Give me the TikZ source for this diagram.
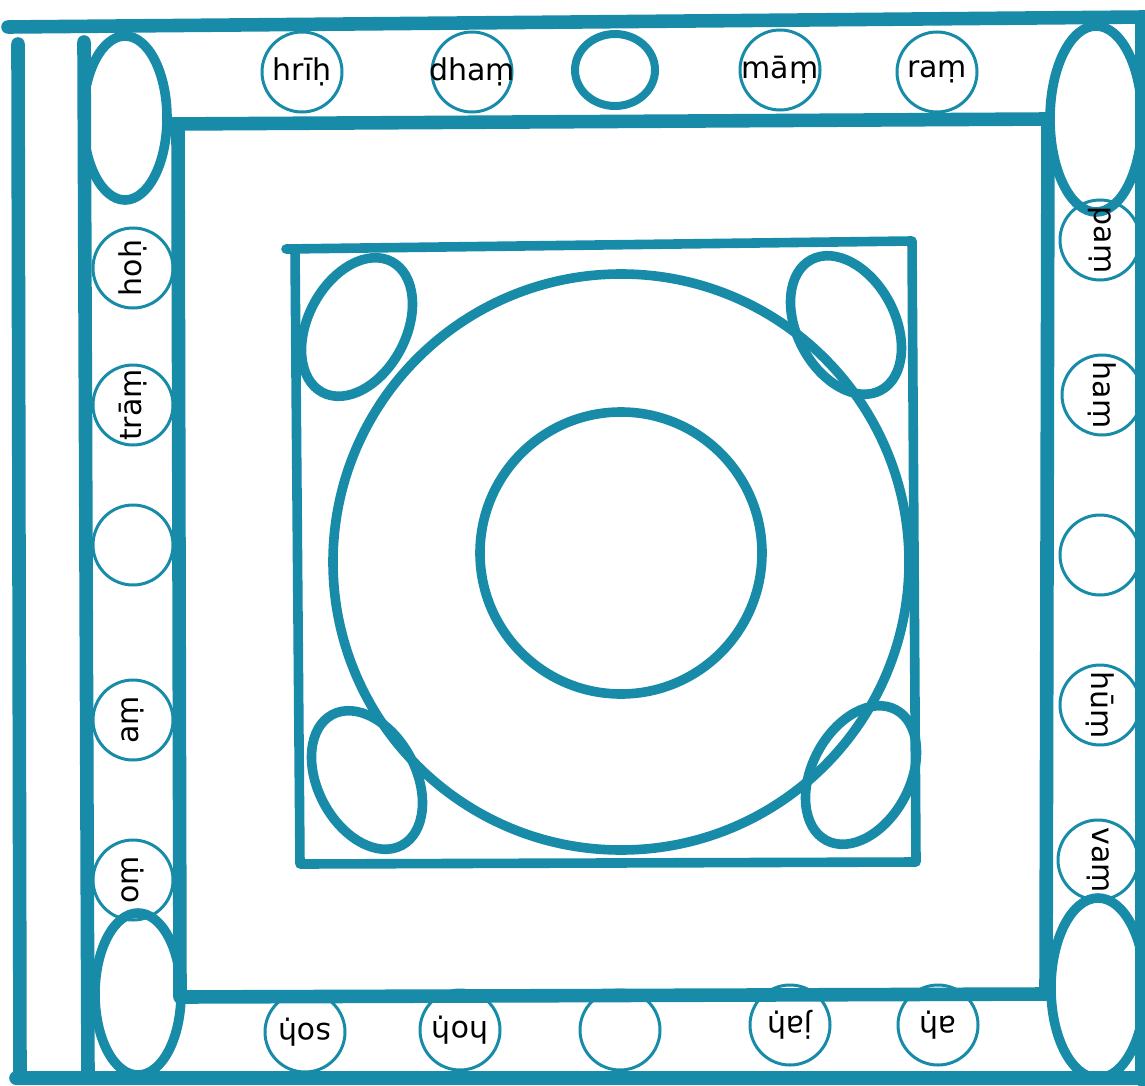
\documentclass[tikz,border=0pt]{standalone}
\usepackage{fontspec}
\setmainfont{DejaVu Sans}
\usetikzlibrary{shapes.geometric}
\definecolor{ink}{RGB}{24,139,168}
\begin{document}
\begin{tikzpicture}[x=0.5pt,y=-0.5pt,
  frame/.style={draw=ink,line width=6.8pt,line cap=round,line join=round},
  sq/.style={draw=ink,line width=4.8pt,line cap=round,line join=round},
  seed/.style={circle,draw=ink,line width=1.5pt,minimum size=40pt,inner sep=-7pt,
    font=\fontsize{15}{17}\selectfont},
  lefttxt/.style={seed,rotate=90},
  righttxt/.style={seed,rotate=-90},
  bottxt/.style={seed,rotate=180}]
\useasboundingbox (0,0) rectangle (1145,1086);
% outer frame
\draw[frame] (8,27) -- (1145,17);
\draw[frame] (18,44) -- (20,1076);
\draw[frame] (84,42) -- (88,1076);
\draw[frame] (16,1078) -- (1145,1078);
\draw[frame] (1142,22) -- (1142,1080);
% middle frame
\draw[frame] (170,124) -- (1048,119) -- (1046,994) -- (180,997) -- (178,124);
% corner ellipses
\draw[sq,line width=4.8pt] (125,118) ellipse [x radius=42, y radius=82];
\draw[sq,line width=4.8pt] (1096,119) ellipse [x radius=46, y radius=93];
\draw[sq,line width=4.8pt] (138,994) ellipse [x radius=43, y radius=81];
\draw[sq,line width=4.8pt] (1098,988) ellipse [x radius=47, y radius=90];
% inner square
\draw[sq] (286,249) -- (912,241) -- (916,862) -- (300,864) -- (295,249);
% circles
\draw[sq] (621,562) circle [radius=288];
\draw[sq] (621,553) circle [radius=141];
% small tilted ellipses
\draw[sq] [rotate around={62:(357,327)}] (357,327) ellipse [x radius=74, y radius=49];
\draw[sq] [rotate around={-62:(846,325)}] (846,325) ellipse [x radius=74, y radius=49];
\draw[sq] [rotate around={-62:(367,780)}] (367,780) ellipse [x radius=74, y radius=49];
\draw[sq] [rotate around={62:(861,775)}] (861,775) ellipse [x radius=74, y radius=49];
% top row
\node[seed] (t1) at (302,72) {hrīḥ};
\node[seed] (t2) at (472,72) {dhaṃ};
\draw[draw=ink,line width=4pt] (615,70) ellipse [x radius=40, y radius=36];
\node[seed] (t4) at (780,70) {māṃ};
\node[seed] (t5) at (937,72) {raṃ};
% right column
\node[righttxt] (r1) at (1100,240) {paṃ};
\node[righttxt] (r2) at (1102,395) {haṃ};
\node[seed] (r3) at (1100,555) {};
\node[righttxt] (r4) at (1100,705) {hūṃ};
\node[righttxt] (r5) at (1098,860) {vaṃ};
% left column
\node[lefttxt] (l1) at (133,268) {hoḥ};
\node[lefttxt] (l2) at (133,405) {trāṃ};
\node[seed] (l3) at (133,545) {};
\node[lefttxt] (l4) at (133,720) {aṃ};
\node[lefttxt] (l5) at (133,880) {oṃ};
% bottom row
\node[bottxt] (b1) at (305,1032) {soḥ};
\node[bottxt] (b2) at (460,1030) {hoḥ};
\node[seed] (b3) at (620,1030) {};
\node[bottxt] (b4) at (790,1025) {jaḥ};
\node[bottxt] (b5) at (938,1025) {aḥ};
\end{tikzpicture}
\end{document}
